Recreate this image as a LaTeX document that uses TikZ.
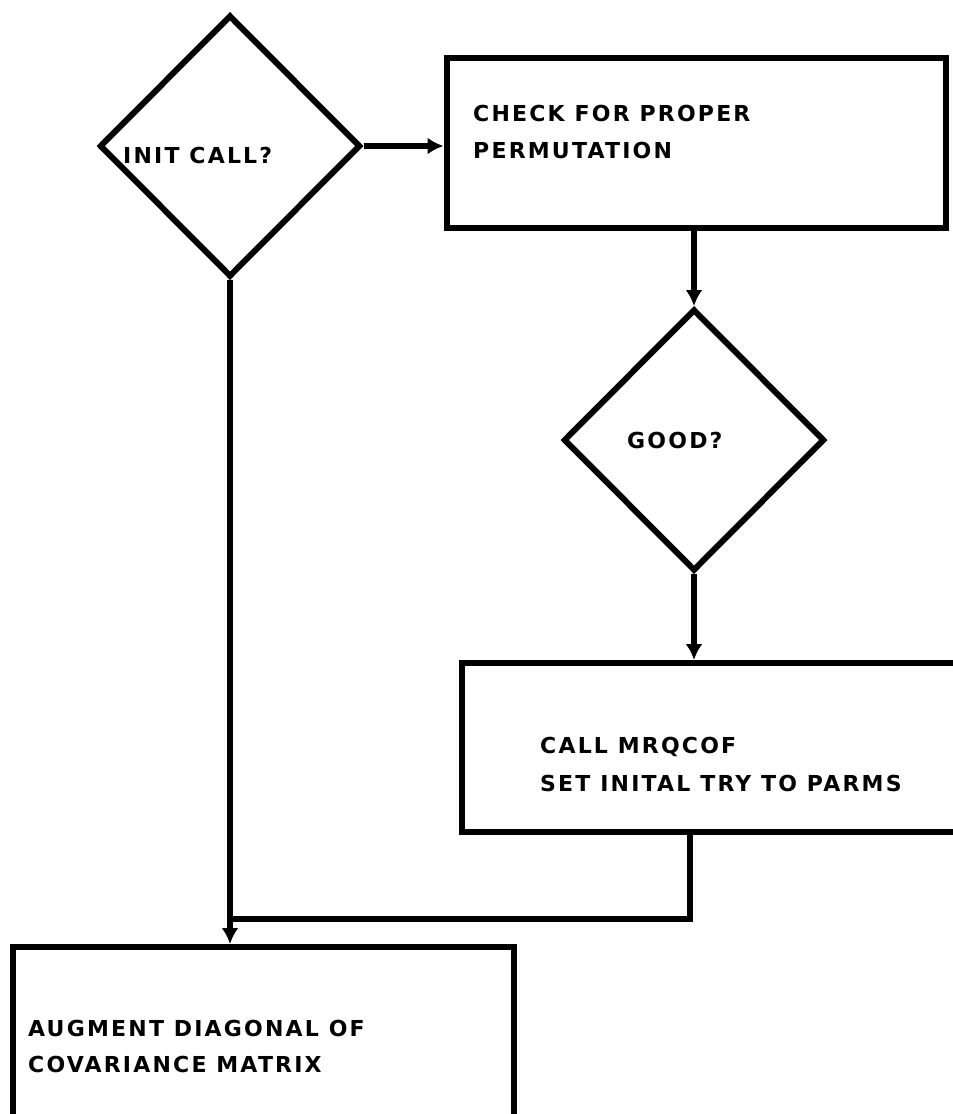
\documentclass[tikz,border=0pt]{standalone}
\usepackage{fontspec}
\setmainfont{DejaVu Sans}[LetterSpace=10]
\usetikzlibrary{shapes.geometric,arrows.meta}

\tikzset{
  flowline/.style={line width=6pt},
  flowarrow/.style={flowline,-{Latex[length=16pt,width=17pt]}},
  decision/.style={draw,flowline,diamond,aspect=1,inner sep=0pt,minimum width=261pt,minimum height=262pt},
  procbox/.style={draw,flowline,rectangle,inner sep=0pt},
  lbl/.style={anchor=west,inner sep=0pt,font=\bfseries\fontsize{22}{26}\selectfont}
}

\begin{document}
\begin{tikzpicture}[x=1pt,y=1pt,yscale=-1,xscale=1]
\useasboundingbox (0,0) rectangle (953,1114);
\clip (0,0) rectangle (953,1114);

%Shape: Diamond [init]
\node[decision] (init) at (230,146) {};
%Shape: Rectangle [check]
\node[procbox,minimum width=499pt,minimum height=170pt] (check) at (696,143) {};
%Shape: Diamond [good]
\node[decision] (good) at (694,440) {};
%Shape: Rectangle [mrqcof]
\node[procbox,minimum width=528pt,minimum height=169pt] (mrqcof) at (726,747.5) {};
%Shape: Rectangle [augment]
\node[procbox,minimum width=501pt,minimum height=200pt] (augment) at (263.5,1047) {};

% Text Node
\node[lbl] (initTxt) at (123,155) {INIT CALL?};
% Text Node
\node[lbl] (checkTxt) at (473,113) {CHECK FOR PROPER};
\node[lbl] (checkTxtB) at (473,150) {PERMUTATION};
% Text Node
\node[lbl] (goodTxt) at (627,440) {GOOD?};
% Text Node
\node[lbl] (mrqTxt) at (540,747) {CALL MRQCOF};
\node[lbl] (mrqTxtB) at (540,783) {SET INITAL TRY TO PARMS};
% Text Node
\node[lbl] (augTxt) at (28,1028) {AUGMENT DIAGONAL OF};
\node[lbl] (augTxtB) at (28,1064) {COVARIANCE MATRIX};

%Straight Lines
\draw[flowarrow] (init.east) -- (init.east -| check.west);
\draw[flowarrow] (good.north |- check.south) -- (good.north);
\draw[flowarrow] (good.south) -- (good.south |- mrqcof.north);
\draw[flowarrow] (init.south) -- (init.south |- augment.north);
%Straight Lines [merge]
\coordinate (merge) at (227,919);
\draw[flowline] ([xshift=-4pt]good.south |- mrqcof.south) |- (merge);
\end{tikzpicture}
\end{document}
